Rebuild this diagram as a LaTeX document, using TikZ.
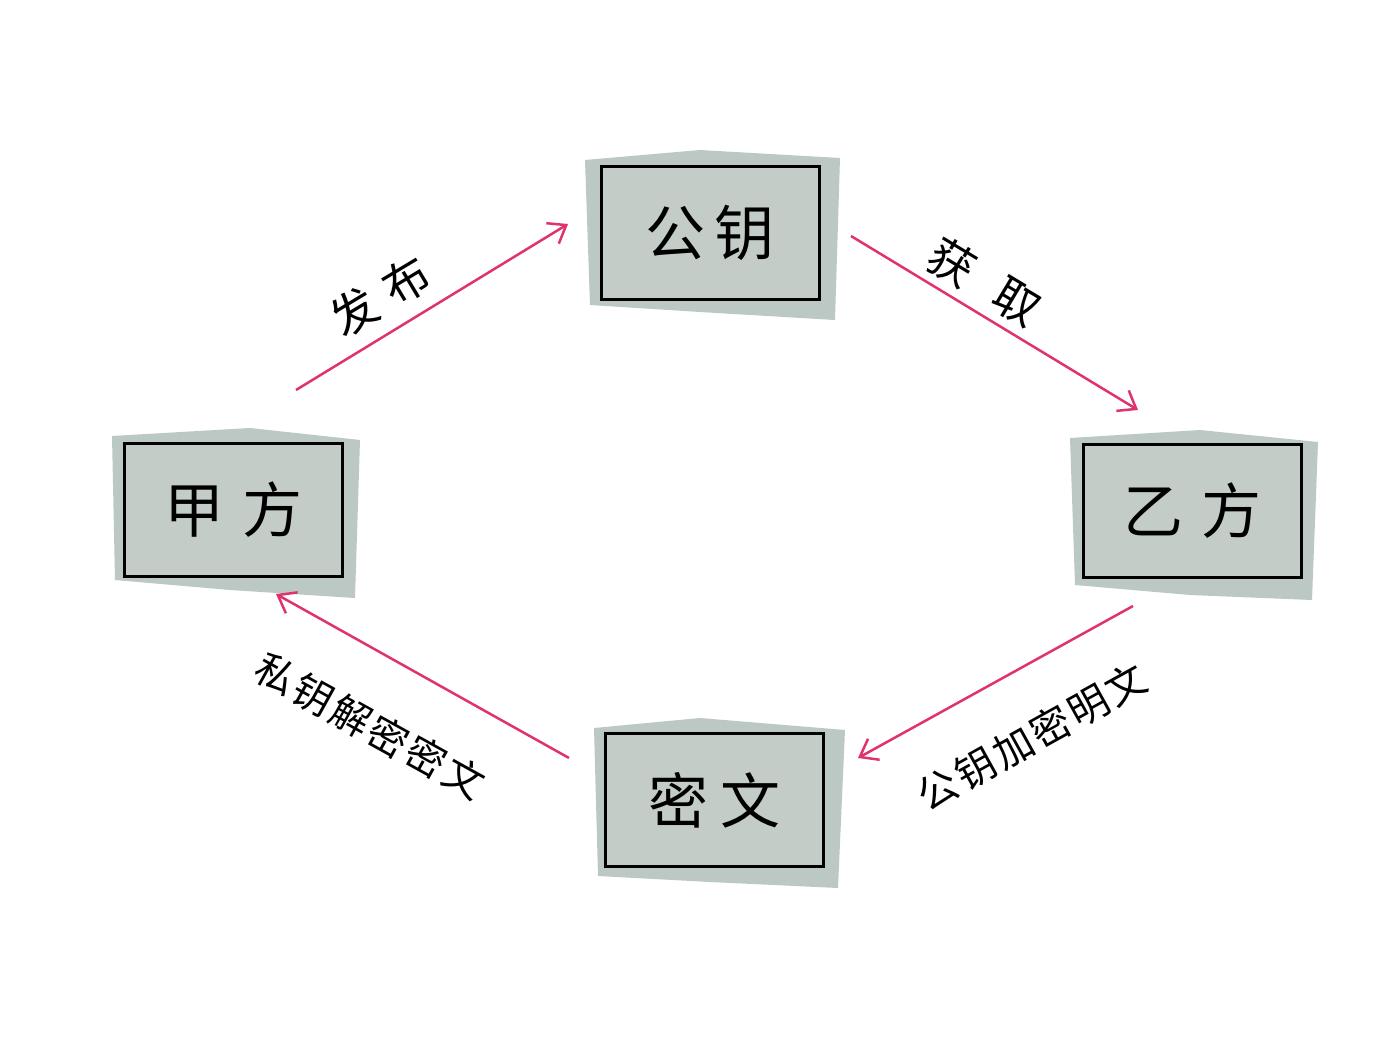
\documentclass[tikz,border=0pt]{standalone}
\usepackage{fontspec}
\newfontfamily\cjk{Noto Sans CJK SC}
\usetikzlibrary{arrows.meta}
\begin{document}
\begin{tikzpicture}[x=1pt,y=-1pt,
  box/.style={draw=black,line width=3pt,fill=boxgray,minimum width=218pt,minimum height=133pt,font=\cjk\fontsize{60}{62}\selectfont},
  shade/.style={fill=shadegray,draw=none},
  arr/.style={draw=arrpink,line width=2.5pt,->,>={Straight Barb[length=16pt,width=24pt]}},
  lab/.style={font=\cjk\fontsize{46}{48}\selectfont},
  slab/.style={font=\cjk\fontsize{40}{42}\selectfont}]
\definecolor{boxgray}{HTML}{C3CCC7}
\definecolor{shadegray}{HTML}{BCC8C3}
\definecolor{arrpink}{HTML}{E0336E}
\useasboundingbox[fill=white] (0,0) rectangle (1384,1036);
\fill[shade] (585,160) -- (700,150) -- (840,158) -- (835,320) -- (700,312) -- (590,305) -- cycle;
\fill[shade] (112,436) -- (250,428) -- (360,440) -- (355,598) -- (230,590) -- (115,580) -- cycle;
\fill[shade] (1070,438) -- (1200,430) -- (1318,442) -- (1312,600) -- (1190,595) -- (1075,585) -- cycle;
\fill[shade] (594,728) -- (700,718) -- (845,730) -- (838,888) -- (710,882) -- (598,876) -- cycle;
\node[box] (pub) at (710,233) {公\,钥};
\node[box] (a) at (233,510) {甲\hspace{18pt}方};
\node[box] (b) at (1192,511) {乙\hspace{18pt}方};
\node[box] (c) at (714,800) {密\hspace{12pt}文};
\coordinate (a1) at (296,390); \coordinate (p1) at (568,224);
\coordinate (p2) at (851,236); \coordinate (b1) at (1138,410);
\coordinate (b2) at (1133,606); \coordinate (c1) at (858,758);
\coordinate (c2) at (569,758); \coordinate (a2) at (276,594);
\draw[arr] (a1) -- (p1);
\draw[arr] (p2) -- (b1);
\draw[arr] (b2) -- (c1);
\draw[arr] (c2) -- (a2);
\node[lab,rotate=31] (l1) at (380,296) {发\hspace{14pt}布};
\node[lab,rotate=-31] (l2) at (985,282) {获\hspace{30pt}取};
\node[slab,rotate=29] (l3) at (1032,737) {公\hspace{3pt}钥\hspace{3pt}加\hspace{3pt}密\hspace{3pt}明\hspace{3pt}文};
\node[slab,rotate=-29] (l4) at (370,726) {私\hspace{3pt}钥\hspace{3pt}解\hspace{3pt}密\hspace{3pt}密\hspace{3pt}文};
\end{tikzpicture}
\end{document}
